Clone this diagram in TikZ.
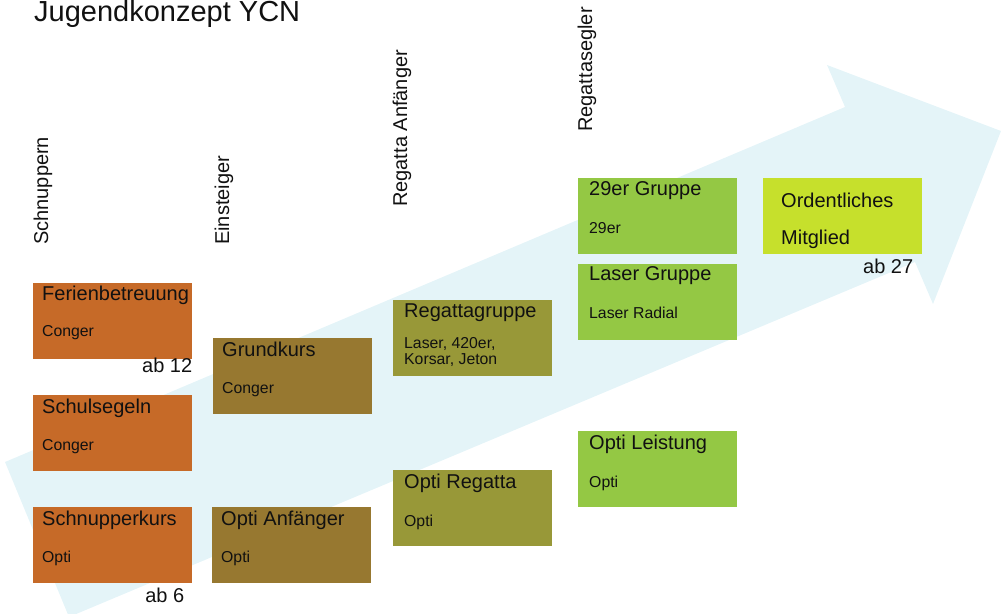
\documentclass[tikz,border=0pt]{standalone}
\usepackage{fontspec}
\setmainfont{Liberation Sans}
\definecolor{arrowblue}{RGB}{228,244,248}
\definecolor{cOrange}{RGB}{198,106,40}
\definecolor{cBrown}{RGB}{151,120,48}
\definecolor{cOlive}{RGB}{152,152,56}
\definecolor{cGreen}{RGB}{148,200,68}
\definecolor{cLime}{RGB}{198,224,44}
\definecolor{ink}{RGB}{17,17,17}
\begin{document}
\begin{tikzpicture}[x=1pt,y=-1pt,
  box/.style={draw=none, minimum width=159pt, minimum height=76pt, inner sep=0pt, anchor=north west},
  head/.style={anchor=base west, inner sep=0pt, font=\fontsize{20}{24}\selectfont, text=ink},
  sub/.style={anchor=base west, inner sep=0pt, font=\fontsize{15.8}{17}\selectfont, text=ink},
  age/.style={anchor=base east, inner sep=0pt, font=\fontsize{20}{24}\selectfont, text=ink},
  stage/.style={rotate=90, anchor=base west, inner sep=0pt, font=\fontsize{20}{24}\selectfont, text=ink}]
\useasboundingbox (0,0) rectangle (1006,613);
\clip (0,0) rectangle (1006,613);
% big background arrow
\fill[arrowblue] (5,462) -- (845,107) -- (827,65) -- (1001,131) -- (933,304) -- (915,262) -- (69,617) -- cycle;
% title
\node[anchor=base west, inner sep=0pt, font=\fontsize{29}{33}\selectfont, text=ink] (title) at (34,21) {Jugendkonzept YCN};
% stage labels
\node[stage] (st1) at (48,245) {Schnuppern};
\node[stage] (st2) at (229,245) {Einsteiger};
\node[stage] (st3) at (407,207) {Regatta Anfänger};
\node[stage] (st4) at (592,132) {Regattasegler};
% column 1
\node[box, fill=cOrange] (fer) at (33,283) {};
\node[head] (ferH) at ([shift={(9,17.5)}]fer.north west) {Ferienbetreuung};
\node[sub] (ferS) at ([shift={(9,53.5)}]fer.north west) {Conger};
\node[age] (ferA) at ([shift={(0,13)}]fer.south east) {ab 12};
\node[box, fill=cOrange] (schul) at (33,395) {};
\node[head] (schulH) at ([shift={(9,18)}]schul.north west) {Schulsegeln};
\node[sub] (schulS) at ([shift={(9,55)}]schul.north west) {Conger};
\node[box, fill=cOrange] (schnup) at (33,507) {};
\node[head] (schnupH) at ([shift={(9,18)}]schnup.north west) {Schnupperkurs};
\node[sub] (schnupS) at ([shift={(9,55)}]schnup.north west) {Opti};
\node[age] (schnupA) at ([shift={(-8,19)}]schnup.south east) {ab 6};
% column 2
\node[box, fill=cBrown] (grund) at (213,338) {};
\node[head] (grundH) at ([shift={(9,18)}]grund.north west) {Grundkurs};
\node[sub] (grundS) at ([shift={(9,55)}]grund.north west) {Conger};
\node[box, fill=cBrown] (optiA) at (212,507) {};
\node[head] (optiAH) at ([shift={(9,18)}]optiA.north west) {Opti Anfänger};
\node[sub] (optiAS) at ([shift={(9,55)}]optiA.north west) {Opti};
% column 3
\node[box, fill=cOlive] (regG) at (393,300) {};
\node[head] (regGH) at ([shift={(11,17)}]regG.north west) {Regattagruppe};
\node[sub] (regGS1) at ([shift={(11,48)}]regG.north west) {Laser, 420er,};
\node[sub] (regGS2) at ([shift={(11,64)}]regG.north west) {Korsar, Jeton};
\node[box, fill=cOlive] (optiR) at (393,470) {};
\node[head] (optiRH) at ([shift={(11,18)}]optiR.north west) {Opti Regatta};
\node[sub] (optiRS) at ([shift={(11,56)}]optiR.north west) {Opti};
% column 4
\node[box, fill=cGreen] (g29) at (578,178) {};
\node[head] (g29H) at ([shift={(11,17)}]g29.north west) {29er Gruppe};
\node[sub] (g29S) at ([shift={(11,55)}]g29.north west) {29er};
\node[box, fill=cGreen] (laser) at (578,264) {};
\node[head] (laserH) at ([shift={(11,16.5)}]laser.north west) {Laser Gruppe};
\node[sub] (laserS) at ([shift={(11,54)}]laser.north west) {Laser Radial};
\node[box, fill=cGreen] (optiL) at (578,431) {};
\node[head] (optiLH) at ([shift={(11,18.5)}]optiL.north west) {Opti Leistung};
\node[sub] (optiLS) at ([shift={(11,56)}]optiL.north west) {Opti};
% column 5
\node[box, fill=cLime] (ord) at (763,178) {};
\node[head] (ordH1) at ([shift={(18,29)}]ord.north west) {Ordentliches};
\node[head] (ordH2) at ([shift={(18,66)}]ord.north west) {Mitglied};
\node[age] (ordA) at ([shift={(-9,19)}]ord.south east) {ab 27};
\end{tikzpicture}
\end{document}
